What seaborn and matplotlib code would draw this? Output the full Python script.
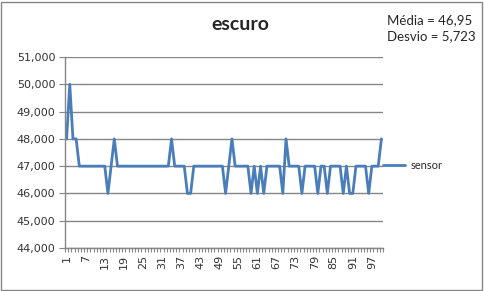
import matplotlib
matplotlib.use("Agg")
import matplotlib.pyplot as plt
import seaborn as sns
import pandas as pd
from matplotlib.ticker import FuncFormatter, FixedLocator
from matplotlib.patches import Rectangle

title = "escuro"
series_name = "sensor"
stats_text = "Média = 46,95\nDesvio = 5,723"

sample = list(range(1, 101))
values = [48, 50, 48, 48, 47, 47, 47, 47, 47, 47,
          47, 47, 47, 46, 47, 48, 47, 47, 47, 47,
          47, 47, 47, 47, 47, 47, 47, 47, 47, 47,
          47, 47, 47, 48, 47, 47, 47, 47, 46, 46,
          47, 47, 47, 47, 47, 47, 47, 47, 47, 47,
          46, 47, 48, 47, 47, 47, 47, 47, 46, 47,
          46, 47, 46, 47, 47, 47, 47, 47, 46, 48,
          47, 47, 47, 47, 46, 47, 47, 47, 47, 46,
          47, 47, 46, 47, 47, 47, 47, 46, 47, 46,
          46, 47, 47, 47, 47, 46, 47, 47, 47, 48]
y_ticks = [44, 45, 46, 47, 48, 49, 50, 51]
x_labels = list(range(1, 101, 6))

df = pd.DataFrame({"amostra": sample, series_name: values})

sns.set_style("white")
plt.rcParams["font.family"] = ["DejaVu Sans"]

fig = plt.figure(figsize=(4.84, 2.91), dpi=100)
ax = fig.add_axes([65/484, 1-248/291, (383-65)/484, (248-57)/291])

sns.lineplot(data=df, x="amostra", y=series_name, ax=ax, color="#4A7EBB",
             linewidth=2.0, label=series_name)

ax.set_xlim(0.5, 100.5)
ax.set_ylim(44, 51)
ax.set_yticks(y_ticks)
ax.yaxis.set_major_formatter(FuncFormatter(lambda v, p: f"{v:.3f}".replace(".", ",")))
ax.yaxis.grid(True, color="#868686", linewidth=1.0)
ax.set_axisbelow(True)

ax.xaxis.set_major_locator(FixedLocator(x_labels))
ax.set_xticklabels([str(v) for v in x_labels], rotation=90)
ax.xaxis.set_minor_locator(FixedLocator([i + 0.5 for i in range(0, 101)]))
ax.tick_params(axis="x", which="major", length=0, pad=5, labelsize=8, colors="#333333")
ax.tick_params(axis="x", which="minor", length=3, color="#868686", width=0.8, bottom=True)
ax.tick_params(axis="y", which="major", length=4, color="#868686", width=0.8,
               labelsize=8, labelcolor="#333333", left=True, pad=3)

for s in ["top", "right"]:
    ax.spines[s].set_visible(False)
for s in ["left", "bottom"]:
    ax.spines[s].set_color("#868686")
    ax.spines[s].set_linewidth(1.0)

ax.set_xlabel("")
ax.set_ylabel("")

leg = ax.legend(loc="center left", bbox_to_anchor=(0.985, 0.43), frameon=False,
                handlelength=2.0, fontsize=8, borderaxespad=0.0, handletextpad=0.5)
for t in leg.get_texts():
    t.set_family("Lato")

fig.text(240/484, 1-24/291, title, ha="center", va="center", fontsize=14,
         fontweight="bold", family="Lato")
fig.text(387/484, 1-28/291, stats_text, ha="left", va="center", fontsize=9.5,
         family="Lato", linespacing=1.4)

fig.patches.append(Rectangle((1/484, 1/291), 481/484, 288/291, transform=fig.transFigure,
                             fill=False, edgecolor="#868686", linewidth=1.0))

fig.savefig("out.png", dpi=100)
